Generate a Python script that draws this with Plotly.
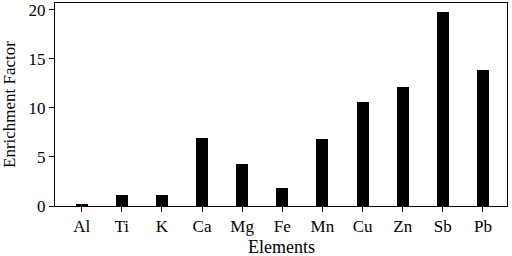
import plotly.graph_objects as go

elements = ["Al", "Ti", "K", "Ca", "Mg", "Fe", "Mn", "Cu", "Zn", "Sb", "Pb"]
enrichment = [0.14, 1.16, 1.16, 6.93, 4.32, 1.83, 6.82, 10.59, 12.12, 19.72, 13.89]

fig = go.Figure(go.Bar(x=list(range(len(elements))), y=enrichment,
                       marker=dict(color="black", line=dict(width=0)), width=0.3))

FAMILY = "Liberation Serif, Times New Roman, serif"
fig.update_layout(
    width=512, height=256, margin=dict(l=55, r=5, t=3, b=50, autoexpand=False),
    plot_bgcolor="white", paper_bgcolor="white",
    font=dict(family=FAMILY, size=17, color="black"), showlegend=False,
    bargap=0,
)
fig.add_annotation(text="Elements", xref="paper", yref="paper", x=0.5, y=-0.2,
                   xanchor="center", yanchor="middle", showarrow=False,
                   font=dict(family=FAMILY, size=18, color="black"))
fig.update_xaxes(tickmode="array", tickvals=list(range(len(elements))), ticktext=elements,
                 range=[-0.665, 10.6], showline=True, linecolor="black", linewidth=1, mirror=True,
                 ticks="outside", ticklen=5, tickcolor="black", showgrid=False, automargin=False,
                 tickfont=dict(family=FAMILY, size=17, color="black"))
fig.update_yaxes(range=[0, 20.67], tickvals=[0, 5, 10, 15, 20], showline=True, linecolor="black",
                 linewidth=1, mirror=True, ticks="outside", ticklen=5, tickcolor="black",
                 showgrid=False, zeroline=False, automargin=False,
                 tickfont=dict(family=FAMILY, size=17, color="black"),
                 title=dict(text="Enrichment Factor", font=dict(family=FAMILY, size=17, color="black")))
fig.write_html("out.html", config={"displayModeBar": False},
               post_script="document.body.style.margin='0';document.body.style.overflow='hidden';")
